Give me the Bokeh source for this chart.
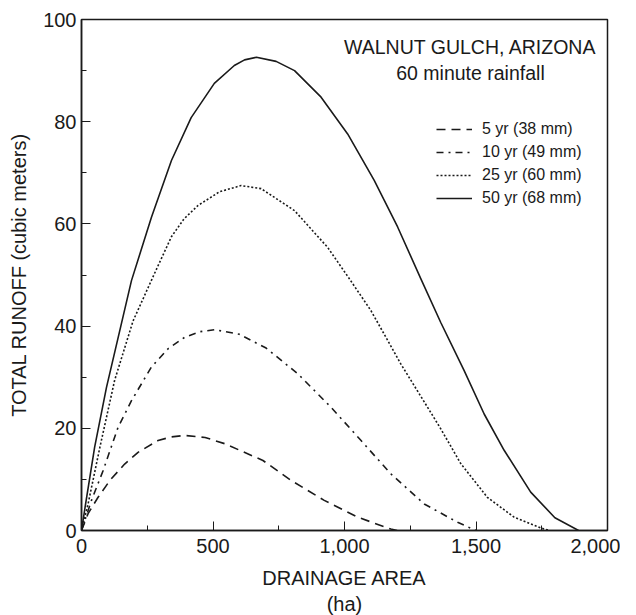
from bokeh.plotting import figure
from bokeh.models import (SingleIntervalTicker, NumeralTickFormatter, Legend, LegendItem,
                          Range1d, Label)
from bokeh.embed import file_html
from bokeh.resources import INLINE

# ---- data ----
area_5 = [0, 25, 63, 108, 164, 215, 291, 340, 392, 470, 544, 690, 797, 923, 1050, 1176, 1200]
runoff_5 = [0, 3.3, 6.5, 9.8, 13.0, 15.3, 17.6, 18.3, 18.6, 18.2, 17.0, 13.7, 9.8, 5.9, 2.6, 0.3, 0]

area_10 = [0, 38, 82, 139, 190, 266, 330, 392, 450, 506, 600, 702, 822, 949, 1063, 1176, 1303, 1430, 1500]
runoff_10 = [0, 5.9, 11.7, 20.2, 25.4, 32.0, 35.6, 37.8, 38.9, 39.3, 38.4, 35.7, 30.7, 24.1, 17.6, 11.1,
             5.2, 1.6, 0]

area_25 = [0, 25, 70, 126, 196, 275, 342, 390, 443, 525, 607, 683, 810, 936, 1018, 1101, 1214,
           1316, 1366, 1442, 1543, 1645, 1746, 1780]
runoff_25 = [0, 5.2, 16.3, 29.4, 41.0, 50.0, 57.5, 61.0, 63.6, 66.3, 67.5, 66.9, 62.6, 55.4, 49.3, 43.0,
             32.6, 24.1, 19.9, 13.1, 6.5, 2.6, 0.5, 0]

area_50 = [0, 15, 50, 95, 190, 266, 342, 417, 505, 581, 620, 665, 740, 810, 911, 1012, 1113, 1202,
           1290, 1366, 1455, 1531, 1607, 1708, 1800, 1890]
runoff_50 = [0, 5.0, 16.3, 28.0, 48.9, 61.3, 72.4, 80.8, 87.5, 91.0, 92.1, 92.6, 91.8, 90.0, 84.8, 77.6,
             68.5, 59.4, 49.3, 40.7, 31.3, 22.8, 15.7, 7.5, 2.5, 0]

series_labels = ["5 yr (38 mm)", "10 yr (49 mm)", "25 yr (60 mm)", "50 yr (68 mm)"]
title_lines = ["WALNUT GULCH, ARIZONA", "60 minute rainfall"]
x_label = "DRAINAGE AREA\n(ha)"
y_label = "TOTAL RUNOFF (cubic meters)"

FONT = "Liberation Sans"
INK = "#1a1a1a"

p = figure(frame_width=526, frame_height=511, output_backend="svg", toolbar_location=None,
           x_range=Range1d(0, 2000), y_range=Range1d(0, 100),
           min_border_left=81, min_border_right=13, min_border_top=19, min_border_bottom=69)
p.background_fill_color = "white"
p.border_fill_color = "white"
p.grid.visible = False
p.outline_line_color = INK
p.outline_line_width = 1.5

for ax in (p.xaxis[0], p.yaxis[0]):
    ax.axis_line_color = INK
    ax.axis_line_width = 1.5
    ax.major_tick_in = 9
    ax.major_tick_out = 0
    ax.minor_tick_in = 5
    ax.minor_tick_out = 0
    ax.major_tick_line_color = INK
    ax.minor_tick_line_color = INK
    ax.major_label_text_font = FONT
    ax.major_label_text_font_size = "20px"
    ax.major_label_text_color = INK
    ax.axis_label_text_font = FONT
    ax.axis_label_text_font_size = "20px"
    ax.axis_label_text_font_style = "normal"
    ax.axis_label_text_color = INK

p.xaxis.ticker = SingleIntervalTicker(interval=500, num_minor_ticks=2)
p.yaxis.ticker = SingleIntervalTicker(interval=20, num_minor_ticks=2)
p.xaxis.formatter = NumeralTickFormatter(format="0,0")
p.xaxis.axis_label = x_label
p.yaxis.axis_label = y_label
p.xaxis.major_label_standoff = 8
p.yaxis.major_label_standoff = 5
p.yaxis.axis_label_standoff = 10
p.xaxis.axis_label_standoff = 11

r5 = p.line(area_5, runoff_5, line_color=INK, line_width=1.6, line_dash="9 6")
r10 = p.line(area_10, runoff_10, line_color=INK, line_width=1.6, line_dash="7 5 2 5")
r25 = p.line(area_25, runoff_25, line_color=INK, line_width=1.6, line_dash="2 2")
r50 = p.line(area_50, runoff_50, line_color=INK, line_width=1.6)

legend = Legend(items=[LegendItem(label=series_labels[0], renderers=[r5]),
                       LegendItem(label=series_labels[1], renderers=[r10]),
                       LegendItem(label=series_labels[2], renderers=[r25]),
                       LegendItem(label=series_labels[3], renderers=[r50])],
                location=(355, 322), padding=0, margin=0, spacing=3,
                glyph_width=36, glyph_height=20, label_height=20, label_standoff=10,
                label_text_font=FONT, label_text_font_size="16px", label_text_color=INK,
                border_line_color=None, background_fill_alpha=0)
p.add_layout(legend, "center")

p.add_layout(Label(x=1479, y=94.7, text=title_lines[0], text_align="center", text_baseline="middle",
                   text_font=FONT, text_font_size="19.5px", text_color=INK))
p.add_layout(Label(x=1479, y=89.6, text=title_lines[1], text_align="center", text_baseline="middle",
                   text_font=FONT, text_font_size="19.5px", text_color=INK))

open("out.html", "w").write(file_html(p, INLINE))
